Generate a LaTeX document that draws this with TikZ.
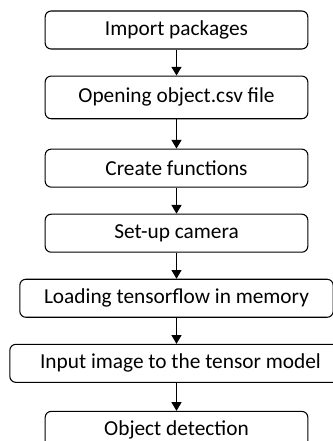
\documentclass[tikz,border=0pt]{standalone}
\usepackage{fontspec}
\setmainfont{Carlito}
\usetikzlibrary{arrows.meta,positioning}
\tikzset{
  step node/.style={draw,rounded corners=4.5pt,line width=0.8pt,
    minimum height=28.5pt,minimum width=197pt,inner sep=3pt,
    font=\fontsize{16pt}{19pt}\selectfont},
  wide node/.style={step node,minimum width=235pt},
  step arrow/.style={-{Triangle[length=6.5pt,width=7.5pt]},line width=0.8pt},
}
\begin{document}
\begin{tikzpicture}[x=0.75pt,y=-0.75pt,node distance=19.5pt]
  \useasboundingbox (0,0) rectangle (332,441);
  % Program steps
  \node[step node] (imp) at (176.5,30) {Import packages};
  \node[step node,below=of imp,minimum height=32pt] (csv) {Opening object.csv file};
  \node[step node,below=22pt of csv] (fun) {Create functions};
  \node[step node,below=of fun] (cam) {Set-up camera};
  \node[wide node,below=of cam] (tfl) {Loading tensorflow in memory};
  \node[step node,below=of tfl,minimum width=256pt,xshift=3pt] (inp) {Input image to the tensor model};
  \node[step node,below=21pt of inp,xshift=-3pt] (det) {Object detection};
  % Flow between the steps
  \draw[step arrow] (imp) -- (csv);
  \draw[step arrow] (csv) -- (fun);
  \draw[step arrow] (fun) -- (cam);
  \draw[step arrow] (cam) -- (tfl);
  \draw[step arrow] (tfl) -- (tfl |- inp.north);
  \draw[step arrow] (inp.south -| det) -- (det);
\end{tikzpicture}
\end{document}
